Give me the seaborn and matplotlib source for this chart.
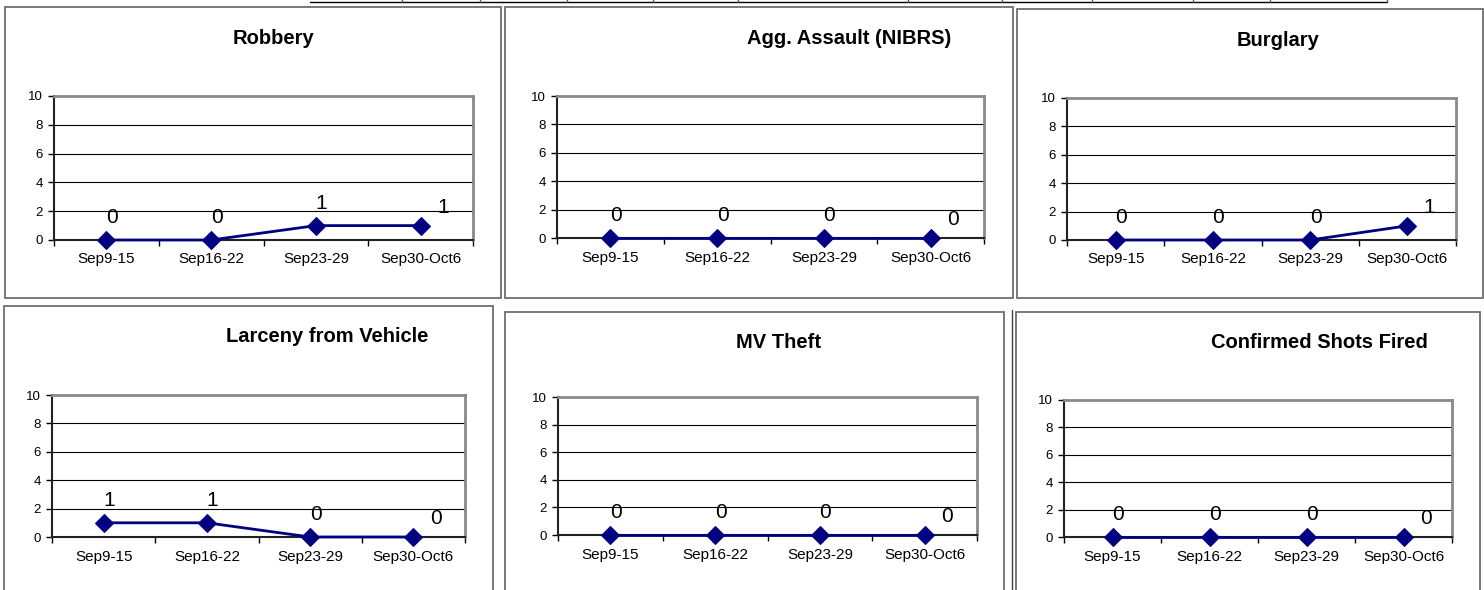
import pandas as pd
import matplotlib.pyplot as plt
import seaborn as sns
from matplotlib.patches import Rectangle
from matplotlib.lines import Line2D

# Weekly counts per crime type
weeks = ['Sep9-15', 'Sep16-22', 'Sep23-29', 'Sep30-Oct6']
robbery = [0, 0, 1, 1]
agg_assault = [0, 0, 0, 0]
burglary = [0, 0, 0, 1]
larceny_vehicle = [1, 1, 0, 0]
mv_theft = [0, 0, 0, 0]
shots_fired = [0, 0, 0, 0]

titles = ['Robbery', 'Agg. Assault (NIBRS)', 'Burglary',
          'Larceny from Vehicle', 'MV Theft', 'Confirmed Shots Fired']
series = [robbery, agg_assault, burglary, larceny_vehicle, mv_theft, shots_fired]
y_ticks = [0, 2, 4, 6, 8, 10]

sns.set_style('white')
plt.rcParams['font.family'] = ['Liberation Sans', 'DejaVu Sans']
plt.rcParams['text.color'] = 'black'
plt.rcParams['xtick.color'] = 'black'
plt.rcParams['ytick.color'] = 'black'

W, H = 1484, 590
fig = plt.figure(figsize=(W / 100, H / 100), dpi=100)

# layout in pixels: plot area (left, top, right, bottom), title centre (x, y), frame box
plot_boxes = [(54, 96, 473, 240), (557, 96, 984, 238), (1067, 98, 1456, 240),
              (52, 395, 465, 537), (558, 397, 977, 535), (1064, 400, 1452, 537)]
title_pos = [(273, 38), (849, 38), (1278, 40), (327, 336), (778, 342), (1319, 342)]
frames = [(5, 7, 501, 298), (505, 7, 1013, 298), (1017, 9, 1483, 298),
          (4, 306, 493, 595), (505, 312, 1004, 595), (1016, 312, 1480, 595)]

# panel frames
for (x0, y0, x1, y1) in frames:
    fig.add_artist(Rectangle((x0 / W, 1 - y1 / H), (x1 - x0) / W, (y1 - y0) / H,
                             transform=fig.transFigure, fill=False,
                             edgecolor='#6e6e6e', lw=1.3))
# second line on the left of the last panel
fig.add_artist(Line2D([1012 / W, 1012 / W], [0, 1 - 310 / H], transform=fig.transFigure,
                      color='#444444', lw=1.0))

# table fragment at the very top
fig.add_artist(Line2D([310 / W, 1387 / W], [1 - 2 / H, 1 - 2 / H], transform=fig.transFigure,
                      color='black', lw=1.0))
for xs in [402, 480, 567, 653, 738, 908, 1002, 1092, 1193, 1270, 1387]:
    fig.add_artist(Line2D([xs / W, xs / W], [1 - 2 / H, 1], transform=fig.transFigure,
                          color='#555555', lw=1.0))

for i, vals in enumerate(series):
    l, t, r, b = plot_boxes[i]
    ax = fig.add_axes([l / W, 1 - b / H, (r - l) / W, (b - t) / H])
    df = pd.DataFrame({'week': weeks, 'count': vals})
    sns.lineplot(data=df, x='week', y='count', ax=ax, color='#000080', lw=2,
                 marker='D', markersize=9, markeredgecolor='#000080', zorder=4,
                 clip_on=False)

    ax.set_xlim(-0.5, len(weeks) - 0.5)
    ax.set_ylim(0, 10)
    ax.set_yticks(y_ticks)
    ax.set_xticks(range(len(weeks)))
    ax.set_xticklabels(weeks, fontsize=11)
    ax.set_xticks([k - 0.5 for k in range(len(weeks) + 1)], minor=True)
    ax.tick_params(axis='x', which='major', length=0, pad=9)
    ax.tick_params(axis='x', which='minor', length=4, width=1, color='black', direction='out',
                   bottom=True)
    ax.tick_params(axis='y', length=4, width=1, color='black', direction='out', left=True,
                   labelsize=9.5, pad=4)
    ax.set_xlabel('')
    ax.set_ylabel('')

    for yv in y_ticks[1:-1]:
        ax.axhline(yv, color='black', lw=0.8, zorder=1)

    for side in ['top', 'right']:
        ax.spines[side].set_color('#8a8a8a')
        ax.spines[side].set_linewidth(2)
    for side in ['left', 'bottom']:
        ax.spines[side].set_color('#222222')
        ax.spines[side].set_linewidth(1.5)

    # data labels
    for k, v in enumerate(vals):
        off = (16, 13) if k == len(vals) - 1 else (4, 16)
        ax.annotate(str(v), (k, v), xytext=off, textcoords='offset points',
                    ha='center', va='center', fontsize=15, zorder=5)

    tx, ty = title_pos[i]
    fig.text(tx / W, 1 - ty / H, titles[i], ha='center', va='center',
             fontsize=14.5, fontweight='bold')

fig.savefig('out.png', dpi=100)
